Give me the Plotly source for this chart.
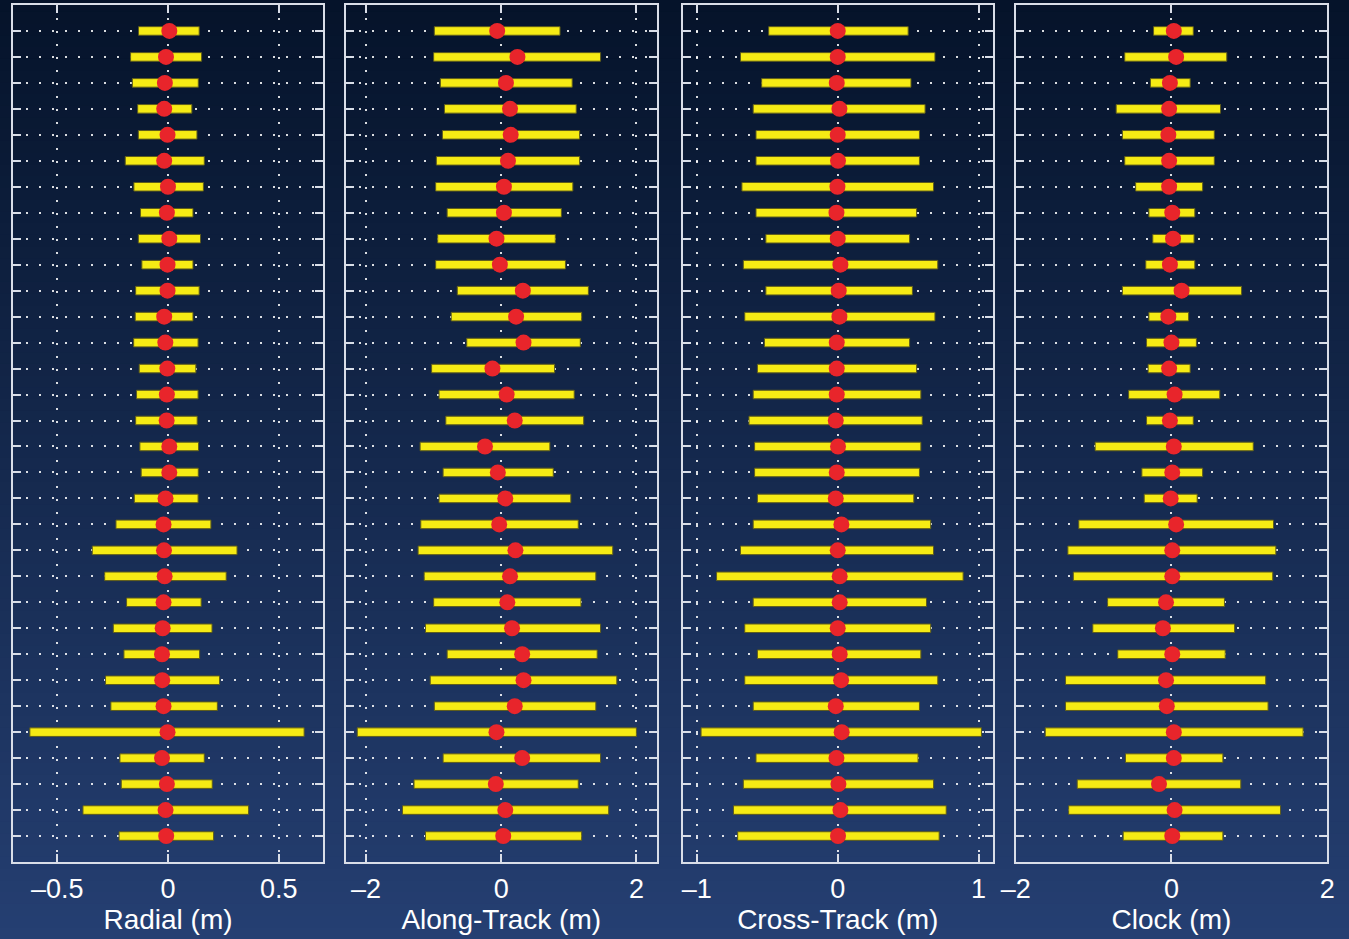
import plotly.graph_objects as go

# Orbit comparison: per-pass mean difference (dot) and spread (bar), 32 passes
passes = list(range(1, 33))

radial_mean = [0.006, -0.009, -0.014, -0.017, -0.002, -0.017, 0.0, -0.005, 0.006, -0.002,
               -0.002, -0.017, -0.012, -0.003, -0.005, -0.006, 0.006, 0.006, -0.011, -0.020,
               -0.018, -0.015, -0.020, -0.024, -0.027, -0.026, -0.020, -0.002, -0.027, -0.005,
               -0.011, -0.008]
radial_min = [-0.133, -0.169, -0.161, -0.137, -0.134, -0.193, -0.154, -0.124, -0.134, -0.118,
              -0.146, -0.148, -0.155, -0.130, -0.142, -0.146, -0.127, -0.121, -0.152, -0.235,
              -0.342, -0.286, -0.187, -0.247, -0.199, -0.282, -0.258, -0.624, -0.217, -0.211,
              -0.384, -0.221]
radial_max = [0.141, 0.152, 0.137, 0.108, 0.131, 0.164, 0.160, 0.113, 0.147, 0.113,
              0.141, 0.113, 0.136, 0.126, 0.136, 0.132, 0.138, 0.137, 0.136, 0.194,
              0.312, 0.263, 0.150, 0.199, 0.143, 0.233, 0.223, 0.615, 0.164, 0.200,
              0.364, 0.206]

along_mean = [-0.06, 0.24, 0.07, 0.13, 0.14, 0.10, 0.04, 0.04, -0.07, -0.02,
              0.32, 0.22, 0.33, -0.13, 0.08, 0.20, -0.24, -0.05, 0.06, -0.03,
              0.21, 0.13, 0.09, 0.16, 0.31, 0.33, 0.20, -0.07, 0.31, -0.08,
              0.06, 0.03]
along_min = [-0.99, -1.00, -0.90, -0.84, -0.87, -0.96, -0.97, -0.80, -0.94, -0.97,
             -0.65, -0.74, -0.51, -1.03, -0.92, -0.82, -1.20, -0.86, -0.92, -1.19,
             -1.23, -1.14, -1.00, -1.12, -0.80, -1.05, -0.99, -2.13, -0.86, -1.29,
             -1.46, -1.12]
along_max = [0.87, 1.47, 1.05, 1.11, 1.16, 1.16, 1.06, 0.89, 0.80, 0.95,
             1.29, 1.19, 1.17, 0.79, 1.08, 1.22, 0.72, 0.77, 1.03, 1.14,
             1.65, 1.40, 1.18, 1.47, 1.42, 1.71, 1.40, 2.00, 1.47, 1.14,
             1.59, 1.19]

cross_mean = [0.0, 0.0, -0.007, 0.012, 0.0, 0.002, -0.002, -0.009, 0.0, 0.019,
              0.007, 0.012, -0.007, -0.007, -0.007, -0.014, 0.002, -0.007, -0.014, 0.026,
              0.0, 0.014, 0.014, 0.0, 0.014, 0.024, -0.014, 0.028, -0.009, 0.005,
              0.019, 0.002]
cross_min = [-0.49, -0.69, -0.54, -0.60, -0.58, -0.58, -0.68, -0.58, -0.51, -0.67,
             -0.51, -0.66, -0.52, -0.57, -0.60, -0.63, -0.59, -0.59, -0.57, -0.60,
             -0.69, -0.86, -0.60, -0.66, -0.57, -0.66, -0.60, -0.97, -0.58, -0.67,
             -0.74, -0.71]
cross_max = [0.50, 0.69, 0.52, 0.62, 0.58, 0.58, 0.68, 0.56, 0.51, 0.71,
             0.53, 0.69, 0.51, 0.56, 0.59, 0.60, 0.59, 0.58, 0.54, 0.66,
             0.68, 0.89, 0.63, 0.66, 0.59, 0.71, 0.58, 1.02, 0.57, 0.68,
             0.77, 0.72]

clock_mean = [0.03, 0.06, -0.02, -0.03, -0.04, -0.03, -0.03, 0.01, 0.02, -0.02,
              0.13, -0.04, 0.0, -0.03, 0.04, -0.02, 0.03, 0.01, -0.01, 0.06,
              0.01, 0.01, -0.07, -0.11, 0.01, -0.07, -0.06, 0.03, 0.03, -0.16,
              0.04, 0.01]
clock_min = [-0.23, -0.60, -0.27, -0.71, -0.63, -0.60, -0.46, -0.29, -0.24, -0.33,
             -0.63, -0.29, -0.32, -0.30, -0.55, -0.32, -0.98, -0.38, -0.35, -1.19,
             -1.33, -1.26, -0.82, -1.01, -0.69, -1.36, -1.36, -1.62, -0.59, -1.21,
             -1.32, -0.62]
clock_max = [0.28, 0.71, 0.24, 0.63, 0.55, 0.55, 0.40, 0.30, 0.29, 0.30,
             0.90, 0.22, 0.32, 0.24, 0.62, 0.28, 1.05, 0.40, 0.33, 1.31,
             1.34, 1.30, 0.68, 0.81, 0.69, 1.21, 1.24, 1.69, 0.66, 0.89,
             1.40, 0.66]

panel_titles = ["Radial (m)", "Along-Track (m)", "Cross-Track (m)", "Clock (m)"]
panel_ranges = [[-0.7, 0.7], [-2.3, 2.3], [-1.1, 1.1], [-2, 2]]
panel_ticks = [[-0.5, 0, 0.5], [-2, 0, 2], [-1, 0, 1], [-2, 0, 2]]
panel_ticktext = [["\u20130.5", "0", "0.5"], ["\u20132", "0", "2"],
                  ["\u20131", "0", "1"], ["\u20132", "0", "2"]]
panel_domains = [[0.00964, 0.2394], [0.2563, 0.4868], [0.5061, 0.7359], [0.7529, 0.9839]]
panel_data = [(radial_mean, radial_min, radial_max),
              (along_mean, along_min, along_max),
              (cross_mean, cross_min, cross_max),
              (clock_mean, clock_min, clock_max)]

YELLOW = "#F6EB14"
RED = "#E8252B"
FRAME = "#D9DEE8"
FONT = "Liberation Sans, Arial, Helvetica, sans-serif"

fig = go.Figure()

for i, (mean, lo, hi) in enumerate(panel_data):
    sfx = "" if i == 0 else str(i + 1)
    fig.add_trace(go.Bar(
        y=passes, x=[h - l for l, h in zip(lo, hi)], base=lo, orientation="h",
        width=0.33, marker=dict(color=YELLOW, line=dict(color="#5E5C1C", width=1)),
        xaxis="x" + sfx, yaxis="y" + sfx, showlegend=False, hoverinfo="skip"))
    fig.add_trace(go.Scatter(
        y=passes, x=mean, mode="markers",
        marker=dict(color=RED, size=16, line=dict(width=0)),
        xaxis="x" + sfx, yaxis="y" + sfx, showlegend=False, hoverinfo="skip"))

layout = dict(
    width=1349, height=939,
    margin=dict(l=0, r=0, t=0, b=0, autoexpand=False),
    paper_bgcolor="#06142B",
    plot_bgcolor="rgba(0,0,0,0)",
    font=dict(family=FONT, color="white"),
    barmode="overlay",
    showlegend=False,
)

for i in range(4):
    sfx = "" if i == 0 else str(i + 1)
    layout["xaxis" + sfx] = dict(
        domain=panel_domains[i], range=panel_ranges[i], anchor="y" + sfx,
        tickvals=panel_ticks[i], ticktext=panel_ticktext[i],
        ticks="inside", ticklen=8, tickwidth=2, tickcolor=FRAME,
        showline=True, linecolor=FRAME, linewidth=2, mirror="allticks",
        showgrid=True, gridcolor="rgba(255,255,255,0.85)", gridwidth=1.5,
        griddash="2px,11px", zeroline=False, automargin=False,
        tickfont=dict(size=27, color="white", family=FONT),
        ticklabelstandoff=2,
        title=dict(text=panel_titles[i], font=dict(size=28, color="white", family=FONT),
                   standoff=0),
        fixedrange=True,
    )
    layout["yaxis" + sfx] = dict(
        domain=[0.082, 0.9947], range=[33, 0], anchor="x" + sfx,
        tickvals=passes, showticklabels=False,
        ticks="inside", ticklen=8, tickwidth=2, tickcolor=FRAME,
        showline=True, linecolor=FRAME, linewidth=2, mirror="allticks",
        showgrid=True, gridcolor="rgba(255,255,255,0.85)", gridwidth=1.5,
        griddash="2px,11px", zeroline=False, automargin=False, fixedrange=True,
    )

# vertical background gradient, dark navy at the top to a lighter blue at the bottom
top_rgb = (5, 19, 42)
bot_rgb = (37, 63, 114)
n_strips = 80
shapes = []
for k in range(n_strips):
    t = (k + 0.5) / n_strips
    c = tuple(round(top_rgb[j] + (bot_rgb[j] - top_rgb[j]) * t) for j in range(3))
    shapes.append(dict(
        type="rect", xref="paper", yref="paper", layer="below",
        x0=0, x1=1, y0=1 - (k + 1) / n_strips - 0.002, y1=1 - k / n_strips,
        fillcolor="rgb(%d,%d,%d)" % c, line=dict(width=0)))
layout["shapes"] = shapes

fig.update_layout(**layout)
fig.write_html("out.html")
